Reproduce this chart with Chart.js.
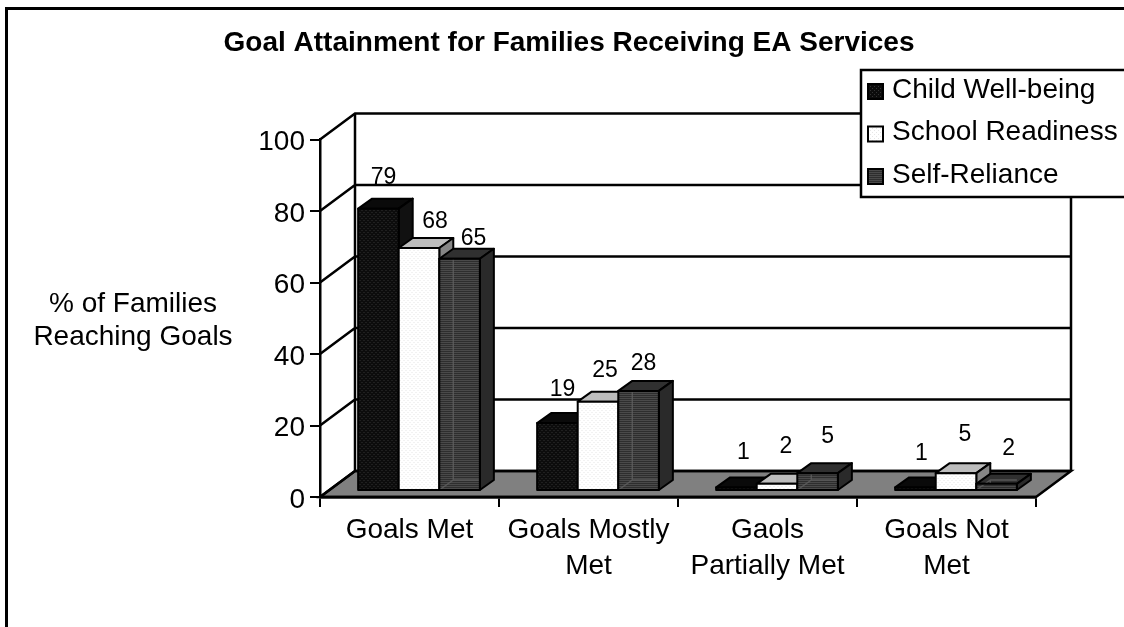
<!DOCTYPE html>
<html>
<head>
<meta charset="utf-8">
<title>Goal Attainment</title>
<script src="https://cdn.jsdelivr.net/npm/chart.js@4"></script>
<style>
html, body { margin: 0; padding: 0; background: #fff; }
canvas { display: block; }
</style>
</head>
<body>
<canvas id="goalChart" width="1124" height="627"></canvas>
<script>
const categories = [['Goals Met'], ['Goals Mostly', 'Met'], ['Gaols', 'Partially Met'], ['Goals Not', 'Met']];
const seriesNames = ['Child Well-being', 'School Readiness', 'Self-Reliance'];
const childWellBeing = [79, 19, 1, 1];
const schoolReadiness = [68, 25, 2, 5];
const selfReliance = [65, 28, 5, 2];
const yTicks = [0, 20, 40, 60, 80, 100];
const chartTitle = 'Goal Attainment for Families Receiving EA Services';
const yCaption = ['% of Families', 'Reaching Goals'];

const FONT = '"Liberation Sans", Arial, sans-serif';

// depth of the floor and of the bars
const wallDx = 35, wallDy = -26;
const barShiftX = 9.5, barShiftY = -6;
const barDx = 14, barDy = -10;

// small label corrections [x, y] per series / category
const labelNudge = [
    [[5, -31], [5, -33], [7, -35], [6, -34]],
    [[16, -26], [7, -31], [9, -37], [9, -38]],
    [[14, -20], [5, -27], [10, -36], [12, -35]]
];

function makePattern(bg, fg, draw) {
    const c = document.createElement('canvas');
    c.width = 4;
    c.height = 4;
    const g = c.getContext('2d');
    g.fillStyle = bg;
    g.fillRect(0, 0, 4, 4);
    g.fillStyle = fg;
    draw(g);
    return c.getContext('2d').createPattern(c, 'repeat');
}

const dots = g => { g.fillRect(0, 0, 1, 1); g.fillRect(2, 2, 1, 1); };
const stripes = g => { g.fillRect(0, 0, 4, 1); g.fillRect(0, 2, 4, 1); };

const fronts = [
    makePattern('#0c0c0c', '#333333', dots),
    makePattern('#ffffff', '#e6e6e6', dots),
    makePattern('#2e2e2e', '#4a4a4a', stripes)
];
const tops = ['#0a0a0a', '#bdbdbd', '#303030'];
const sides = ['#111111', '#868686', '#2a2a2a'];

function poly(ctx, pts, fill) {
    ctx.beginPath();
    pts.forEach((p, i) => i ? ctx.lineTo(p[0], p[1]) : ctx.moveTo(p[0], p[1]));
    ctx.closePath();
    if (fill) {
        ctx.fillStyle = fill;
        ctx.fill();
    }
    ctx.stroke();
}

const wallPlugin = {
    id: 'walls',
    beforeDatasetsDraw(chart) {
        const ctx = chart.ctx;
        const { left, right } = chart.chartArea;
        const yScale = chart.scales.y;
        const y0 = yScale.getPixelForValue(0);
        const y100 = yScale.getPixelForValue(100);
        ctx.save();
        ctx.strokeStyle = '#000';
        ctx.lineWidth = 2.5;
        poly(ctx, [[left, y0], [left + wallDx, y0 + wallDy], [right + wallDx, y0 + wallDy], [right, y0]], '#808080');
        ctx.beginPath();
        yTicks.forEach(t => {
            const y = yScale.getPixelForValue(t);
            ctx.moveTo(left, y);
            ctx.lineTo(left + wallDx, y + wallDy);
            ctx.lineTo(right + wallDx, y + wallDy);
        });
        ctx.moveTo(left + wallDx, y0 + wallDy);
        ctx.lineTo(left + wallDx, y100 + wallDy);
        ctx.moveTo(right + wallDx, y0 + wallDy);
        ctx.lineTo(right + wallDx, y100 + wallDy);
        ctx.moveTo(left, y0);
        ctx.lineTo(right, y0);
        ctx.stroke();
        ctx.restore();
    },
    // bars are drawn by hand below so that later series sit on top
    beforeDatasetDraw() {
        return false;
    },
    afterDatasetsDraw(chart) {
        const ctx = chart.ctx;
        ctx.save();
        ctx.translate(barShiftX, barShiftY);
        ctx.strokeStyle = '#000';
        ctx.lineWidth = 2;
        ctx.lineJoin = 'round';
        chart.data.datasets.forEach((ds, i) => {
            chart.getDatasetMeta(i).data.forEach(bar => {
                const l = bar.x - bar.width / 2;
                const r = bar.x + bar.width / 2;
                const t = bar.y;
                const b = bar.base;
                poly(ctx, [[l, t], [l + barDx, t + barDy], [r + barDx, t + barDy], [r, t]], tops[i]);
                poly(ctx, [[r, t], [r + barDx, t + barDy], [r + barDx, b + barDy], [r, b]], sides[i]);
                bar.draw(ctx);
                // the darkest series looks see-through, its back edges show
                if (i === 2) {
                    ctx.save();
                    ctx.strokeStyle = 'rgba(95,95,95,0.8)';
                    ctx.lineWidth = 1.5;
                    ctx.beginPath();
                    ctx.moveTo(l, b);
                    ctx.lineTo(l + barDx, b + barDy);
                    ctx.lineTo(r, b + barDy);
                    ctx.moveTo(l + barDx, b + barDy);
                    ctx.lineTo(l + barDx, t);
                    ctx.stroke();
                    ctx.restore();
                }
                ctx.strokeRect(l, t, r - l, b - t);
            });
        });
        ctx.restore();

        // value labels
        ctx.save();
        ctx.fillStyle = '#000';
        ctx.font = '23px ' + FONT;
        ctx.textAlign = 'center';
        ctx.textBaseline = 'middle';
        chart.data.datasets.forEach((ds, i) => {
            chart.getDatasetMeta(i).data.forEach((bar, j) => {
                const n = labelNudge[i][j];
                ctx.fillText(ds.data[j], bar.x + barShiftX + n[0], bar.y + barShiftY + n[1]);
            });
        });
        ctx.restore();
    },
    afterDraw(chart) {
        const ctx = chart.ctx;
        ctx.save();
        ctx.strokeStyle = '#000';
        ctx.fillStyle = '#000';

        // outer frame
        ctx.lineWidth = 3;
        ctx.beginPath();
        ctx.moveTo(6.5, 627);
        ctx.lineTo(6.5, 8.5);
        ctx.lineTo(1124, 8.5);
        ctx.stroke();

        // caption left of the axis
        ctx.font = '28px ' + FONT;
        ctx.textAlign = 'center';
        ctx.textBaseline = 'middle';
        yCaption.forEach((line, i) => ctx.fillText(line, 133, 304 + i * 33));

        // legend
        ctx.lineWidth = 2.5;
        ctx.fillStyle = '#fff';
        ctx.fillRect(861, 70, 263, 127);
        ctx.strokeRect(861, 70, 270, 127);
        ctx.textAlign = 'left';
        seriesNames.forEach((name, i) => {
            const y = 90 + i * 42.5;
            ctx.fillStyle = fronts[i];
            ctx.lineWidth = 2;
            ctx.fillRect(868, y - 6, 15, 15);
            ctx.strokeRect(868, y - 6, 15, 15);
            ctx.fillStyle = '#000';
            ctx.fillText(name, 892, y);
        });
        ctx.restore();
    }
};

new Chart(document.getElementById('goalChart'), {
    type: 'bar',
    data: {
        labels: categories,
        datasets: [
            { label: seriesNames[0], data: childWellBeing, backgroundColor: fronts[0] },
            { label: seriesNames[1], data: schoolReadiness, backgroundColor: fronts[1] },
            { label: seriesNames[2], data: selfReliance, backgroundColor: fronts[2] }
        ]
    },
    plugins: [wallPlugin],
    options: {
        responsive: false,
        animation: false,
        categoryPercentage: 0.68,
        barPercentage: 1,
        layout: { padding: { left: 102, right: 88, top: 0, bottom: 30 } },
        plugins: {
            legend: { display: false },
            tooltip: { enabled: false },
            title: {
                display: true,
                text: chartTitle,
                color: '#000',
                font: { family: FONT, size: 28, weight: 'bold' },
                padding: { top: 26, bottom: 80 }
            }
        },
        scales: {
            x: {
                offset: true,
                border: { color: '#000', width: 2.5 },
                grid: { drawOnChartArea: false, offset: true, color: '#000', lineWidth: 2, tickLength: 10 },
                afterFit(scale) { scale.height = 100; },
                ticks: {
                    color: '#000',
                    font: { family: FONT, size: 28, lineHeight: 1.27 },
                    padding: 6,
                    maxRotation: 0,
                    autoSkip: false
                }
            },
            y: {
                min: 0,
                max: 100,
                afterFit(scale) { scale.width = 218; },
                border: { color: '#000', width: 2.5 },
                grid: { drawOnChartArea: false, color: '#000', lineWidth: 2, tickLength: 10 },
                ticks: { color: '#000', font: { family: FONT, size: 28 }, stepSize: 20, padding: 5, labelOffset: 3 }
            }
        }
    }
});
</script>
</body>
</html>
